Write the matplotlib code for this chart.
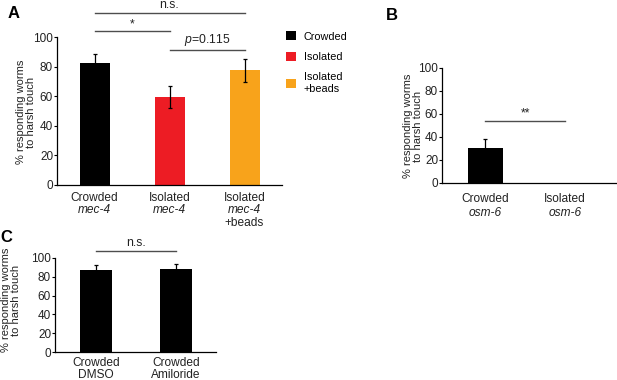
import matplotlib
matplotlib.use('Agg')
import matplotlib.pyplot as plt
from matplotlib.patches import Patch

plt.rcParams['font.family'] = ['Liberation Sans', 'DejaVu Sans']
plt.rcParams['mathtext.fontset'] = 'custom'
plt.rcParams['mathtext.it'] = 'Liberation Sans:italic'
plt.rcParams['mathtext.rm'] = 'Liberation Sans'

# panel A
a_groups = ['Crowded', 'Isolated', 'Isolated\n+beads']
a_values = [82.5, 59.7, 77.5]
a_errors = [6.0, 7.5, 7.6]
a_colors = ['#000000', '#ED1C24', '#F8A31B']
a_labels = [[('Crowded', 'normal'), ('mec-4', 'italic')],
            [('Isolated', 'normal'), ('mec-4', 'italic')],
            [('Isolated', 'normal'), ('mec-4', 'italic'), ('+beads', 'normal')]]

# panel B
b_values = [30.0, 0.0]
b_errors = [8.0, 0.0]
b_labels = [[('Crowded', 'normal'), ('osm-6', 'italic')],
            [('Isolated', 'normal'), ('osm-6', 'italic')]]

# panel C
c_values = [87.0, 88.5]
c_errors = [5.0, 5.0]
c_labels = [[('Crowded', 'normal'), ('DMSO', 'normal')],
            [('Crowded', 'normal'), ('Amiloride', 'normal')]]

yticks = [0, 20, 40, 60, 80, 100]
ylab = '% responding worms\nto harsh touch'
sig_color = '#4d4d4d'

fig = plt.figure(figsize=(6.17, 3.80), dpi=100)


def style_axes(ax):
    ax.set_ylim(0, 100)
    ax.set_yticks(yticks)
    ax.set_xticks([])
    for s in ['top', 'right']:
        ax.spines[s].set_visible(False)
    for s in ['left', 'bottom']:
        ax.spines[s].set_linewidth(0.9)
    ax.tick_params(axis='y', length=2, width=0.8, pad=0.8, labelsize=8.5,
                   labelcolor='#222222')


def bars(ax, values, errors, colors, width):
    x = list(range(len(values)))
    ax.bar(x, values, width=width, color=colors, zorder=2)
    # skip error bars of empty groups
    keep = [i for i in x if errors[i] > 0]
    ax.errorbar(keep, [values[i] for i in keep], yerr=[errors[i] for i in keep],
                fmt='none', ecolor='black', elinewidth=0.9, capsize=1.6,
                capthick=0.9, zorder=3)


def cat_labels(ax, labels, first, step):
    for i, lines in enumerate(labels):
        for j, (txt, st) in enumerate(lines):
            ax.annotate(txt, xy=(i, 0), xycoords=('data', 'axes fraction'),
                        xytext=(0, -first - j * step), textcoords='offset points',
                        ha='center', va='baseline', fontsize=8.6, style=st,
                        color='#222222')


def sig(ax, x0, x1, y, text, off=1.5):
    ax.plot([x0, x1], [y, y], color=sig_color, lw=1.0, clip_on=False)
    ax.annotate(text, xy=((x0 + x1) / 2, y), xytext=(0, off),
                textcoords='offset points', ha='center', va='bottom',
                fontsize=8.8, color='#222222', annotation_clip=False)


# ---- A
axA = fig.add_axes([57 / 617, 195 / 380, 225 / 617, 148 / 380])
bars(axA, a_values, a_errors, a_colors, 0.4)
axA.set_xlim(-0.5, 2.5)
style_axes(axA)
cat_labels(axA, a_labels, 11.5, 9.0)
sig(axA, 0, 2, 116, 'n.s.')
sig(axA, 0, 1, 104, '*', off=0.5)
sig(axA, 1, 2, 91, '$p$=0.115', off=1.5)
handles = [Patch(facecolor=c, edgecolor='none') for c in a_colors]
fig.legend(handles, a_groups, loc='upper left', bbox_to_anchor=(281 / 617, 1 - 26 / 380),
           frameon=False, fontsize=7.8, handlelength=0.9, handleheight=0.9,
           handletextpad=0.7, labelspacing=0.95, borderpad=0)

# ---- B
axB = fig.add_axes([442 / 617, (380 - 182.7) / 380, 175 / 617, 115 / 380])
bars(axB, b_values, b_errors, ['#000000', '#000000'], 0.44)
axB.set_xlim(-0.54, 1.65)
style_axes(axB)
cat_labels(axB, b_labels, 13.9, 10.0)
sig(axB, 0, 1, 54, '**', off=0.5)

# ---- C
axC = fig.add_axes([55 / 617, (380 - 352.3) / 380, 161 / 617, 94.6 / 380])
bars(axC, c_values, c_errors, ['#000000', '#000000'], 0.4)
axC.set_xlim(-0.51, 1.5)
style_axes(axC)
cat_labels(axC, c_labels, 10.0, 8.8)
sig(axC, 0, 1, 107, 'n.s.')

# y labels and panel letters
for (x, y) in [(26, 112), (413, 126), (11, 300)]:
    fig.text(x / 617, 1 - y / 380, ylab, rotation=90, ha='center', va='center',
             multialignment='center', fontsize=8, linespacing=1.1, color='#222222')

for letter, (x, y) in zip('ABC', [(8, 13), (386, 15), (0, 237)]):
    fig.text(x / 617, 1 - y / 380, letter, ha='left', va='center',
             fontsize=12, fontweight='bold')

fig.savefig('out.png', dpi=100)
